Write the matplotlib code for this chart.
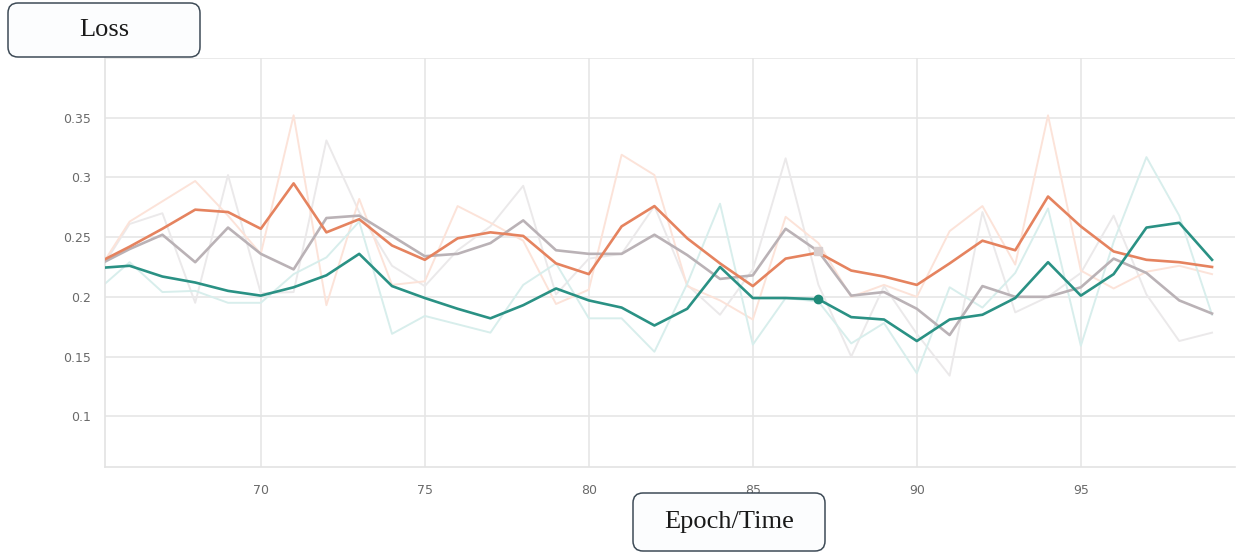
import numpy as np
import matplotlib
matplotlib.use("Agg")
import matplotlib.pyplot as plt
from matplotlib.patches import FancyBboxPatch

# steps shown on the x axis
steps = list(range(65, 100))

# smoothed curves
orange_smooth = [0.228, 0.242, 0.257, 0.273, 0.271, 0.257, 0.295, 0.254, 0.265, 0.243,
                 0.231, 0.249, 0.254, 0.251, 0.228, 0.219, 0.259, 0.276, 0.249, 0.228,
                 0.209, 0.232, 0.237, 0.222, 0.217, 0.210, 0.228, 0.247, 0.239, 0.284,
                 0.259, 0.238, 0.231, 0.229, 0.225]
grey_smooth = [0.226, 0.240, 0.252, 0.229, 0.258, 0.236, 0.223, 0.266, 0.268, 0.251,
               0.234, 0.236, 0.245, 0.264, 0.239, 0.236, 0.236, 0.252, 0.235, 0.215,
               0.218, 0.257, 0.238, 0.201, 0.204, 0.190, 0.168, 0.209, 0.200, 0.200,
               0.208, 0.232, 0.220, 0.197, 0.186]
teal_smooth = [0.224, 0.226, 0.217, 0.212, 0.205, 0.201, 0.208, 0.218, 0.236, 0.209,
               0.199, 0.190, 0.182, 0.193, 0.207, 0.197, 0.191, 0.176, 0.190, 0.225,
               0.199, 0.199, 0.198, 0.183, 0.181, 0.163, 0.181, 0.185, 0.199, 0.229,
               0.201, 0.219, 0.258, 0.262, 0.231]

# raw (unsmoothed) curves
orange_raw = [0.220, 0.263, 0.280, 0.297, 0.268, 0.236, 0.352, 0.193, 0.282, 0.210,
              0.213, 0.276, 0.262, 0.247, 0.194, 0.206, 0.319, 0.302, 0.209, 0.197,
              0.181, 0.267, 0.245, 0.200, 0.210, 0.200, 0.255, 0.276, 0.227, 0.352,
              0.222, 0.207, 0.221, 0.226, 0.219]
grey_raw = [0.218, 0.261, 0.270, 0.195, 0.302, 0.203, 0.204, 0.331, 0.271, 0.226,
            0.209, 0.239, 0.259, 0.293, 0.202, 0.232, 0.236, 0.276, 0.210, 0.185,
            0.223, 0.316, 0.210, 0.150, 0.209, 0.169, 0.134, 0.271, 0.187, 0.200,
            0.220, 0.268, 0.202, 0.163, 0.170]
teal_raw = [0.205, 0.229, 0.204, 0.205, 0.195, 0.195, 0.219, 0.233, 0.263, 0.169,
            0.184, 0.177, 0.170, 0.210, 0.228, 0.182, 0.182, 0.154, 0.211, 0.278,
            0.160, 0.199, 0.196, 0.161, 0.178, 0.136, 0.208, 0.191, 0.220, 0.274,
            0.159, 0.246, 0.317, 0.268, 0.185]

x_ticks = [70, 75, 80, 85, 90, 95]
y_ticks = [0.1, 0.15, 0.2, 0.25, 0.3, 0.35]
y_tick_labels = ["0.1", "0.15", "0.2", "0.25", "0.3", "0.35"]

ORANGE = "#e5835f"
GREY = "#bab2b6"
TEAL = "#2a9184"

fig = plt.figure(figsize=(12.39, 5.54), dpi=100)
ax = fig.add_axes([105 / 1239, 1 - 467 / 554, 1130 / 1239, 409 / 554])

# faint raw lines underneath
ax.plot(steps, grey_raw, color="#ebe9ea", lw=1.4, zorder=2)
ax.plot(steps, orange_raw, color="#fce3d9", lw=1.4, zorder=2)
ax.plot(steps, teal_raw, color="#d8eeec", lw=1.4, zorder=2)

# smoothed lines on top
ax.plot(steps, grey_smooth, color=GREY, lw=1.9, zorder=3)
ax.plot(steps, orange_smooth, color=ORANGE, lw=1.9, zorder=4)
ax.plot(steps, teal_smooth, color=TEAL, lw=1.9, zorder=5)

# hover markers at step 87
i87 = steps.index(87)
ax.plot(steps[i87], grey_smooth[i87], marker="s", ms=6, color="#d9cfcf", zorder=4)
ax.plot(steps[i87], teal_smooth[i87], marker="o", ms=6, color="#1f8a78", zorder=6)

ax.set_xlim(65.25, 99.7)
ax.set_ylim(0.0575, 0.4)
ax.set_xticks(x_ticks)
ax.set_xticklabels([str(t) for t in x_ticks])
ax.set_yticks(y_ticks)
ax.set_yticklabels(y_tick_labels)
ax.axhline(0.4, color="#e6e6e6", lw=1.2, zorder=1)
ax.grid(True, color="#e6e6e6", lw=1.2, zorder=1)
ax.set_axisbelow(True)
ax.tick_params(length=0, labelsize=9, labelcolor="#6a6a6a")
ax.tick_params(axis="x", pad=12)
ax.tick_params(axis="y", pad=10)
for side in ["top", "right"]:
    ax.spines[side].set_visible(False)
for side in ["left", "bottom"]:
    ax.spines[side].set_color("#e3e3e3")
    ax.spines[side].set_linewidth(1.2)

# labelled boxes for title and axis name
serif = ["Liberation Serif", "DejaVu Serif"]
for (bx, by, bw, bh), label in [((0.08, 4.97, 1.92, 0.54), "Loss"),
                                ((6.33, 0.03, 1.92, 0.58), "Epoch/Time")]:
    box = FancyBboxPatch((bx, by), bw, bh, boxstyle="round,pad=0,rounding_size=0.1",
                         transform=fig.dpi_scale_trans, facecolor="#fcfdfe",
                         edgecolor="#3e4b57", lw=1.1)
    fig.add_artist(box)
    fig.text(bx + bw / 2, by + bh / 2, label, transform=fig.dpi_scale_trans,
             ha="center", va="center", fontsize=19, family=serif, color="#1a1a1a")

fig.savefig("out.png", dpi=100)
